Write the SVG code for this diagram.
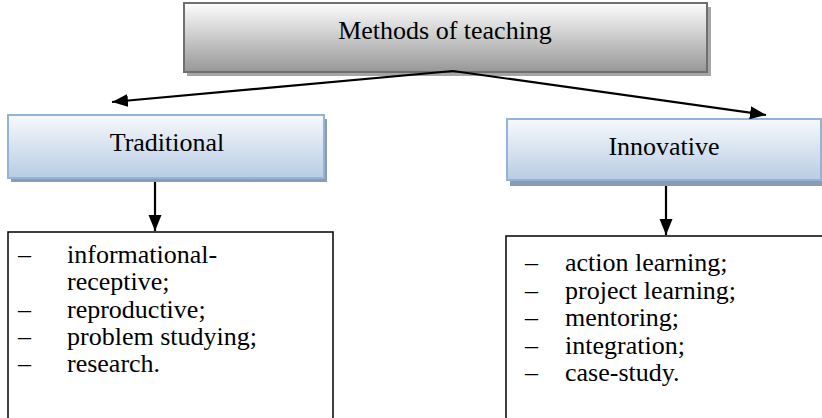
<svg xmlns="http://www.w3.org/2000/svg" width="822" height="418" viewBox="0 0 822 418">
<defs>
<linearGradient id="gGray" x1="0" y1="0" x2="0" y2="1">
<stop offset="0" stop-color="#fdfdfd"/>
<stop offset="1" stop-color="#979797"/>
</linearGradient>
<linearGradient id="gBlue" x1="0" y1="0" x2="0" y2="1">
<stop offset="0" stop-color="#f7f9fc"/>
<stop offset="1" stop-color="#b8cce4"/>
</linearGradient>
<marker id="ah" markerUnits="userSpaceOnUse" markerWidth="17" markerHeight="14" refX="16" refY="6.5" orient="auto">
<path d="M0,0 L16,6.5 L0,13 z" fill="#000"/>
</marker>
<style>
text{font-family:"Liberation Serif","Times New Roman",serif;font-size:26px;fill:#000}
.ctr{text-anchor:middle}
.conn{stroke:#000;stroke-width:2.2;fill:none;marker-end:url(#ah)}
.list{fill:#fff;stroke:#000;stroke-width:1.5}
.blue{fill:url(#gBlue);stroke:#95b3d7;stroke-width:2}
.bshadow{fill:#8b9bb3}
</style>
</defs>
<rect width="822" height="418" fill="#fff"/>

<g id="methods">
<rect x="187" y="7" width="524" height="69" fill="#a6a6a6"/>
<rect x="184" y="3" width="523" height="69" fill="url(#gGray)" stroke="#6f6f6f" stroke-width="2"/>
<text class="ctr" x="445" y="39">Methods of teaching</text>
</g>

<g id="traditional">
<rect x="11" y="119" width="316" height="63" class="bshadow"/>
<rect x="8" y="115" width="316" height="63" class="blue"/>
<text class="ctr" x="167" y="151">Traditional</text>
</g>

<g id="innovative">
<rect x="510" y="123" width="314" height="63" class="bshadow"/>
<rect x="507" y="119" width="314" height="61" class="blue"/>
<text class="ctr" x="664" y="155">Innovative</text>
</g>

<g id="traditional-list">
<rect x="8" y="232" width="325" height="190" class="list"/>
<text x="18" y="263">–</text><text x="67" y="263">informational-</text>
<text x="67" y="290">receptive;</text>
<text x="18" y="317.5">–</text><text x="67" y="317.5">reproductive;</text>
<text x="18" y="345">–</text><text x="67" y="345">problem studying;</text>
<text x="18" y="372">–</text><text x="67" y="372">research.</text>
</g>

<g id="innovative-list">
<rect x="506" y="236" width="320" height="190" class="list"/>
<text x="525" y="271">–</text><text x="565" y="271">action learning;</text>
<text x="525" y="298.5">–</text><text x="565" y="298.5">project learning;</text>
<text x="525" y="326">–</text><text x="565" y="326">mentoring;</text>
<text x="525" y="353.5">–</text><text x="565" y="353.5">integration;</text>
<text x="525" y="381">–</text><text x="565" y="381">case-study.</text>
</g>

<g id="connectors">
<line class="conn" x1="453" y1="71" x2="112" y2="102"/>
<line class="conn" x1="453" y1="71" x2="766" y2="115"/>
<line class="conn" x1="155" y1="182" x2="155" y2="231"/>
<line class="conn" x1="666" y1="186" x2="666" y2="235"/>
</g>
</svg>
